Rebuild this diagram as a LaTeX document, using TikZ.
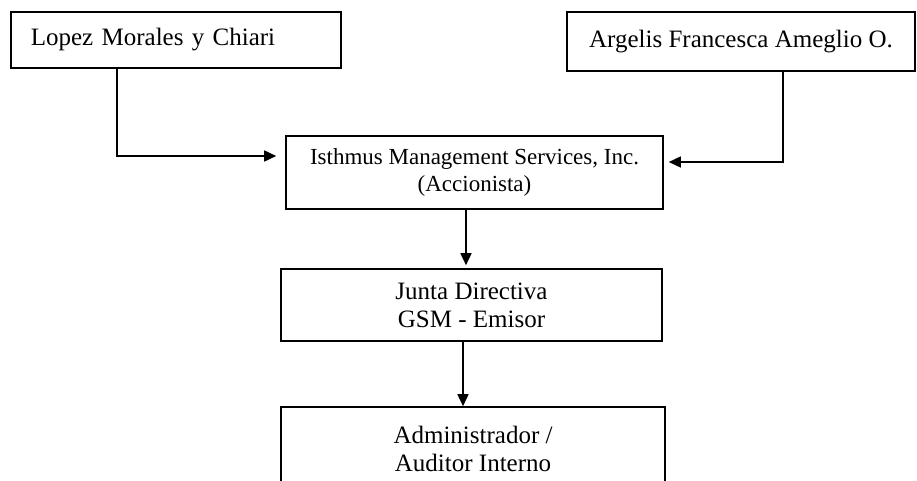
\documentclass[tikz,border=0pt]{standalone}
\usepackage{fontspec}
\setmainfont{Liberation Serif}
\usetikzlibrary{arrows.meta}
\begin{document}
\begin{tikzpicture}[x=1pt,y=-1pt,
  orgbox/.style={draw=black, line width=1.6pt, fill=white, inner sep=0pt, align=center,
    font=\fontsize{25}{28}\selectfont},
  conn/.style={line width=1.6pt, -{Triangle[length=12pt,width=11pt]}}]
\useasboundingbox (0,0) rectangle (917,481);
\clip (0,0) rectangle (917,481);
\node[orgbox, anchor=west, minimum height=56pt, text width=290pt, inner xsep=20pt, align=left] (lopez) at (10,40) {Lopez Morales y Chiari};
\node[orgbox, minimum width=348pt, minimum height=59pt] (argelis) at (741,41.5) {Argelis Francesca Ameglio O.};
\node[orgbox, minimum width=377pt, minimum height=73pt, font=\fontsize{23}{27}\selectfont] (isth) at (474.5,172.5) {Isthmus Management Services, Inc.\\(Accionista)};
\node[orgbox, minimum width=381pt, minimum height=72pt] (junta) at (471.5,305) {Junta Directiva\\GSM - Emisor};
\node[orgbox, minimum width=384pt, minimum height=84pt] (admin) at (473,449) {Administrador /\\Auditor Interno};
\coordinate (l1) at (117,156);
\coordinate (r1) at (783,162);
\coordinate (c1) at (466,0);
\coordinate (c2) at (463,0);
\draw[conn, shorten >=9pt] (lopez.south -| l1) -- (l1) -- (isth.west |- l1);
\draw[conn, shorten >=5pt] (argelis.south -| r1) -- (r1) -- (isth.east |- r1);
\draw[conn, shorten >=3pt] (isth.south -| c1) -- (junta.north -| c1);
\draw[conn] (junta.south -| c2) -- (admin.north -| c2);
\end{tikzpicture}
\end{document}
